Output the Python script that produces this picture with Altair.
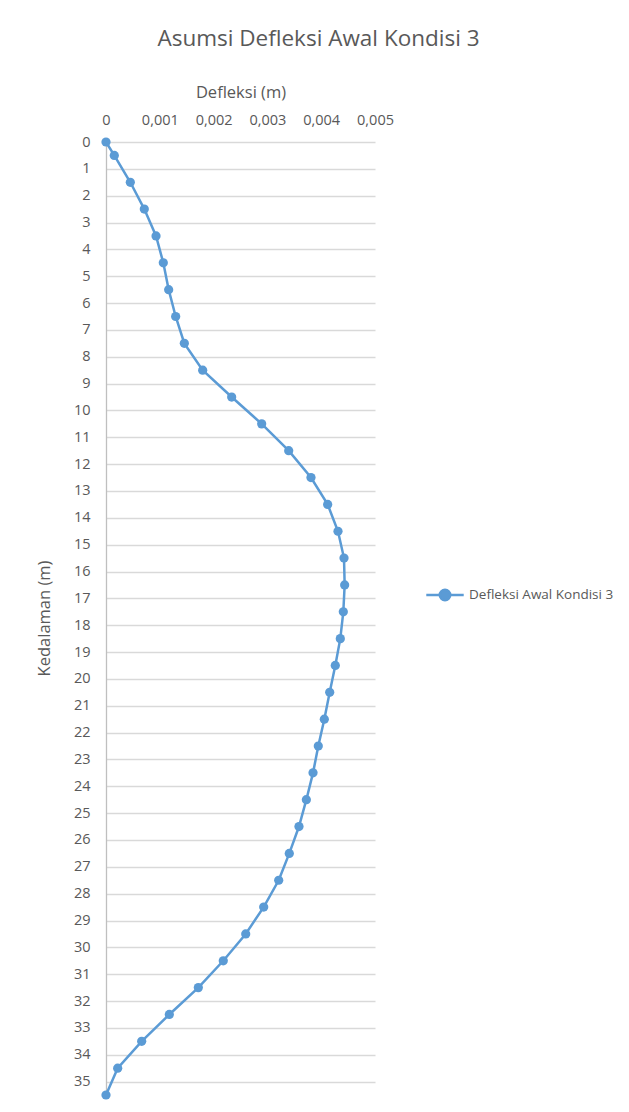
import altair as alt
import pandas as pd

# Data
depth = [0, 0.5, 1.5, 2.5, 3.5, 4.5, 5.5, 6.5, 7.5, 8.5, 9.5, 10.5, 11.5, 12.5,
         13.5, 14.5, 15.5, 16.5, 17.5, 18.5, 19.5, 20.5, 21.5, 22.5, 23.5, 24.5,
         25.5, 26.5, 27.5, 28.5, 29.5, 30.5, 31.5, 32.5, 33.5, 34.5, 35.5]
deflection = [0, 0.000154, 0.000452, 0.000712, 0.000930, 0.001065, 0.001165,
              0.001295, 0.001456, 0.001797, 0.002336, 0.002894, 0.003396,
              0.003810, 0.004120, 0.004312, 0.004424, 0.004436, 0.004411,
              0.004355, 0.004262, 0.004158, 0.004058, 0.003946, 0.003848,
              0.003724, 0.003587, 0.003407, 0.003210, 0.002931, 0.002597,
              0.002180, 0.001716, 0.001177, 0.000663, 0.000217, 0]
series_name = "Defleksi Awal Kondisi 3"
chart_title = "Asumsi Defleksi Awal Kondisi 3"
x_title = "Defleksi (m)"
y_title = "Kedalaman (m)"
x_ticks = [0, 0.001, 0.002, 0.003, 0.004, 0.005]
y_ticks = list(range(0, 36))

df = pd.DataFrame({"depth": depth, "defl": deflection, "series": series_name})

TEXT = "#595959"
BLUE = "#5B9BD5"
FONT = "Open Sans"

chart = alt.Chart(df).mark_line(
    strokeWidth=2.5,
    point=alt.OverlayMarkDef(filled=True, size=85, opacity=1),
).encode(
    x=alt.X("defl:Q",
            scale=alt.Scale(domain=[0, 0.005], nice=False, zero=False),
            axis=alt.Axis(orient="top", values=x_ticks, title=x_title,
                          labelExpr="datum.value == 0 ? '0' : replace(format(datum.value, '.3f'), '.', ',')",
                          grid=False, domain=False, ticks=False, labelFlush=False,
                          labelOverlap=False, labelPadding=15, titlePadding=12)),
    y=alt.Y("depth:Q",
            scale=alt.Scale(domain=[0, 35.5], reverse=True, nice=False, zero=False),
            axis=alt.Axis(values=y_ticks, title=y_title, grid=True,
                          gridColor="#D9D9D9", gridWidth=1.3,
                          domain=True, domainColor="#BFBFBF", domainWidth=1.3,
                          ticks=False, labelPadding=16, labelOverlap=False,
                          titleX=-54, titleY=476)),
    order=alt.Order("depth:Q"),
    color=alt.Color("series:N", scale=alt.Scale(range=[BLUE]),
                    legend=alt.Legend(title=None, orient="none", legendX=319, legendY=433,
                                      symbolType="M-1,0L1,0M-0.28,0A0.28,0.28 0 1,1 0.28,0A0.28,0.28 0 1,1 -0.28,0",
                                      symbolSize=1400, symbolStrokeWidth=2.5,
                                      symbolFillColor=BLUE, symbolStrokeColor=BLUE,
                                      labelFont=FONT, labelFontSize=13.5, labelColor=TEXT,
                                      labelOffset=4)),
).properties(
    width=269,
    height=953,
    title=alt.TitleParams(chart_title,
                          font=FONT, fontSize=22.5, fontWeight="normal", color=TEXT,
                          anchor="middle", frame="group", dx=78, offset=34),
    padding={"left": 98, "top": 134, "right": 246, "bottom": 9},
    autosize=alt.AutoSizeParams(type="none"),
).configure_axis(
    labelFont=FONT, labelFontSize=14.5, labelColor=TEXT,
    titleFont=FONT, titleFontSize=16.5, titleColor=TEXT, titleFontWeight="normal",
).configure_view(stroke=None)

chart.save("out.html", embed_options={"renderer": "svg", "actions": False})
